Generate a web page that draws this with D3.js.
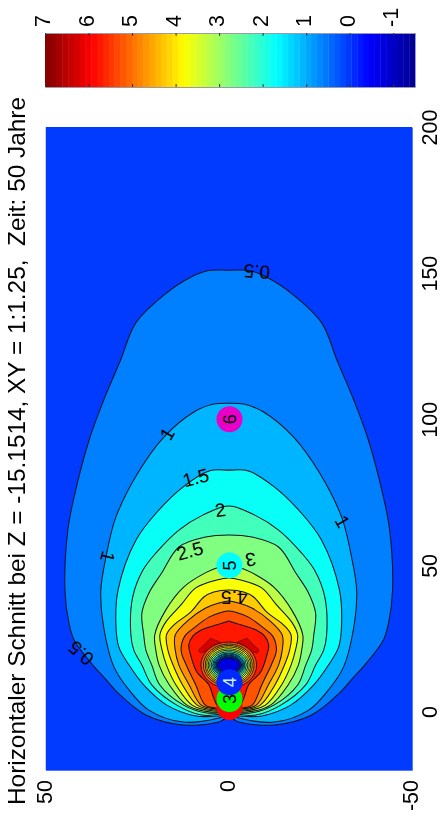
<!DOCTYPE html>
<html><head><meta charset="utf-8">
<script src="https://cdnjs.cloudflare.com/ajax/libs/d3/7.8.5/d3.min.js"></script>
<style>
html,body{margin:0;padding:0;background:#fff;overflow:hidden}
svg{display:block;filter:blur(0.6px)}
text{font-family:"Liberation Sans",Arial,sans-serif;fill:#000;white-space:pre}
</style></head><body><svg id="c" width="445" height="821"></svg>
<script>
const titleText = "Horizontaler Schnitt bei Z = -15.1514, XY = 1:1.25,  Zeit: 50 Jahre";
const xTicks = [0,50,100,150,200];
const yTicks = [50,0,-50];
const barTicks = [7,6,5,4,3,2,1,0,-1];

const levels = [0.5,1,1.5,2,2.5,3,3.5,4,4.5,5,5.5];
const bandValue = [0.62,1.07,1.75,2.25,2.75,3.25,3.75,4.25,4.75,5.25,5.75];
const backgroundValue = 0.05;
// distance along the plume (x) and half width (|y|) of each contour
const alongX = [
 [151,150.9,148.6,142.5,132.9,120.3,106.6,92.9,73.4,62.1,41.6,30.3,24.5,15.9,11.8,6.3,-1.2,-4.6,-3.6,-1.9],
 [105.5,105.2,102.5,93.9,81.6,66.5,52.9,41.6,30.3,15.2,7.4,0.5,-3.6,-2.2,-0.9],
 [82.6,82.3,76.8,68.9,58.7,41.6,30.3,22.1,15.9,9.1,2.2,-1.5,-1.5,-0.9],
 [70.3,67.2,62.1,54.2,48.4,39.2,26.2,21,15.9,9.1,2.2,-1.2,-0.9,-0.2],
 [60.4,59.7,56.3,47.4,40.5,33.7,26.2,21,15.9,9.1,2.2,-0.5,-0.2,0.2],
 [49.8,49.4,47.7,42.6,34.7,26.2,21,15.9,9.1,2.2,-0.2,0.2],
 [45.7,45,42.3,36.4,30.6,26.2,21,15.9,9.1,2.2,0.2,0.5],
 [41.6,40.9,39.2,34,29.6,26.2,21,15.9,9.1,2.2,0.5,0.9],
 [37.8,37.1,35.4,31.3,26.2,21,15.9,9.1,2.2,0.9,1.2],
 [34.4,34,32.3,28.6,25.8,21,15.9,9.1,2.2,1.2,1.5],
 [31,30.6,29.6,27.9,25.8,22.8,19.3,13.5,9.1,4.6,1.5,1.9]
];
const halfY = [
 [0,5.5,10.4,17.7,25.4,29.5,34.1,38.1,42.2,43.9,44.7,43.6,42.2,37.1,34.1,30.2,22.6,12.5,2.7,0],
 [0,4.1,9.5,17.7,24.8,30.8,33.5,34.9,34.3,31.3,27.2,21.8,12.5,2.7,0],
 [0,5.4,12.5,19.1,25.3,30.2,30.8,30,27.2,23.2,16.9,9,2.7,0],
 [0,7.1,13.6,19.9,23.4,26.2,26.7,25.9,23.7,21,14.2,7.4,2.2,0],
 [0,6.3,13.6,18.3,21.8,23.7,23.2,22.6,21,18.8,12.3,6,1.6,0],
 [0,2.7,6,12.3,17.2,20.2,19.9,19,16.2,11.4,4.9,0],
 [0,3.3,9,13.1,17.2,18.8,18.2,17,14.4,10,4.1,0],
 [0,4.1,6.8,10.4,15,17,16.6,15.2,12.6,8.6,3.5,0],
 [0,2.7,6.3,11,14.6,14.6,13.6,10.8,7.5,3.3,0],
 [0,1.9,5.4,9.5,12,13,11.6,9,6.4,3,0],
 [0,0.8,3.5,7.5,9.8,10.9,10.4,8.7,5.4,4.1,2.7,0]
];
// the two dark lobes above level 6
const lobeX = [21,25.1,23.8,21,20];
const lobeY = [8.3,5,2.3,4.2,7.8];
const lobeValue = 6.3;
// depression around source 4
const wellLevels = [5.5,5,4.5,4,3.5,3,2.5,2,1.5,1,0.5,0,-0.5];
const wellRx = [7.6,6.9,6.4,6,5.6,5.2,4.8,4.4,4.1,3.8,3.5,3.3,3.0];
const wellRy = [7.9,7.2,6.7,6.2,5.6,5.1,4.6,4.1,3.8,3.4,3.1,2.7,2.4];
const wellX = 15.9;
// labelled sources
const srcX = [1.5,4.3,10,50,100];
const srcY = [-0.2,-0.2,-0.2,-0.2,-0.2];
const srcFill = ["#ff0000","#00ff00","#0028ff","#00ffff","#e800c8"];
const srcText = ["","3","4","5","6"];
const srcInk = ["#000","#000","#cfefff","#000","#000"];
// contour labels
const labText = ["0.5","1","1","1","1.5","2","2.5","3","4.5","0.5"];
const labX = [150.5,95,53,65,80,69,55,52,39,20];
const labY = [-7.7,16.8,33,-31,9,2.3,10.6,-6,-1.5,40.3];
const labRot = [184,-60,105,60,-15,-8,-15,172,180,222];

const svg = d3.select("#c");
const x = d3.scaleLinear().domain([-20,200]).range([770,127]);
const y = d3.scaleLinear().domain([50,-50]).range([45.5,412]);
const val = d3.scaleLinear().domain([7,-1.5]).range([45,415]);
const jet = d3.scaleLinear().domain([0,.125,.375,.625,.875,1])
  .range(["#00008f","#0000ff","#00ffff","#ffff00","#ff0000","#800000"]);
const col = v => jet((v+1.5)/8.5);

// plot
svg.append("clipPath").attr("id","pc").append("rect")
  .attr("x",y(50)).attr("y",x(200)).attr("width",y(-50)-y(50)).attr("height",x(-20)-x(200));
const plot = svg.append("g").attr("clip-path","url(#pc)");
plot.append("rect").attr("x",y(50)).attr("y",x(200)).attr("width",y(-50)-y(50)).attr("height",x(-20)-x(200))
  .attr("fill",col(backgroundValue));
const line = d3.line().x(d=>y(d[1])).y(d=>x(d[0])).curve(d3.curveCatmullRomClosed.alpha(0.5));
const lobeLine = d3.line().x(d=>y(d[1])).y(d=>x(d[0])).curve(d3.curveLinearClosed);
const STROKE="#0c1420";
levels.forEach((L,i)=>{
  const a=alongX[i], h=halfY[i];
  const pts=a.map((v,k)=>[v,h[k]]);
  const back=a.map((v,k)=>[v,-h[k]]).slice(1,-1).reverse();
  plot.append("path").attr("d",line(pts.concat(back)))
    .attr("fill",col(bandValue[i])).attr("stroke",STROKE).attr("stroke-width",1.05);
});
[1,-1].forEach(s=>{
  plot.append("path").attr("d",lobeLine(lobeX.map((v,k)=>[v,s*lobeY[k]])))
    .attr("fill",col(lobeValue)).attr("stroke",STROKE).attr("stroke-width",0.4);
});
plot.selectAll("ellipse.w").data(wellLevels).join("ellipse").attr("class","w")
  .attr("cx",y(0)).attr("cy",x(wellX))
  .attr("rx",(d,i)=>y(0)-y(wellRx[i])).attr("ry",(d,i)=>x(wellX-wellRy[i])-x(wellX))
  .attr("fill",d=>col(d-0.25)).attr("stroke",STROKE).attr("stroke-width",0.9);

// contour labels
plot.selectAll("text.l").data(labText).join("text").attr("class","l")
  .attr("font-size",19).attr("text-anchor","middle").attr("dy",".35em")
  .attr("transform",(d,i)=>`translate(${y(labY[i])},${x(labX[i])}) rotate(${labRot[i]})`)
  .text(d=>d);

// sources
const g = plot.selectAll("g.s").data(srcX).join("g").attr("class","s")
  .attr("transform",(d,i)=>`translate(${y(srcY[i])},${x(d)})`);
g.append("circle").attr("r",13).attr("fill",(d,i)=>srcFill[i]);
g.append("text").attr("font-size",18).attr("text-anchor","middle").attr("dy",".35em")
  .attr("transform","rotate(-90)").style("fill",(d,i)=>srcInk[i]).text((d,i)=>srcText[i]);

// axes
const frame="#5577ff";
const ax = svg.append("g").attr("transform",`translate(${y(-50)},0)`)
  .call(d3.axisRight(x).tickValues(xTicks).tickSize(0).tickFormat(String));
ax.select(".domain").attr("stroke",frame);
ax.selectAll("text").attr("font-size",21.5).attr("font-family","Liberation Sans")
  .attr("x",0).attr("dy",0).attr("text-anchor","middle").attr("dominant-baseline","middle")
  .attr("transform","translate(19,0) rotate(-90)");
const ay = svg.append("g").attr("transform",`translate(0,${x(-20)})`)
  .call(d3.axisBottom(y).tickValues(yTicks).tickSize(0).tickFormat(String));
ay.select(".domain").attr("stroke",frame);
ay.selectAll("text").attr("font-size",21.5).attr("font-family","Liberation Sans")
  .attr("y",0).attr("dy",0).attr("text-anchor","end").attr("dominant-baseline","middle")
  .attr("transform","translate(0,10) rotate(-90)");

// colour bar
const cells = d3.range(64);
const barTop=33, barBot=87;
const cw = (val(-1.5)-val(7))/64;
svg.selectAll("rect.cb").data(cells).join("rect").attr("class","cb")
  .attr("x",i=>val(7)+(63-i)*cw).attr("y",barTop).attr("width",cw+0.4).attr("height",barBot-barTop)
  .attr("fill",i=>jet((i+.5)/64));
const bt = svg.append("g").attr("transform",`translate(0,${barTop})`)
  .call(d3.axisTop(val).tickValues(barTicks).tickSize(-3).tickFormat(String));
bt.select(".domain").attr("stroke","#99a");
bt.selectAll("line").attr("stroke","#333");
bt.selectAll("text").attr("font-size",21.5).attr("font-family","Liberation Sans")
  .attr("y",0).attr("dy",0).attr("text-anchor","start").attr("dominant-baseline","middle")
  .attr("transform","translate(-1,-6) rotate(-90)");
const bb = svg.append("g").attr("transform",`translate(0,${barBot})`)
  .call(d3.axisBottom(val).tickValues(barTicks).tickSize(-3).tickFormat(""));
bb.select(".domain").attr("stroke","#99a");
bb.selectAll("line").attr("stroke","#333");

// title
svg.append("text").attr("font-size",24).attr("textLength",708).attr("lengthAdjust","spacingAndGlyphs")
  .attr("transform","translate(25,805) rotate(-90)").text(titleText);
</script></body></html>
